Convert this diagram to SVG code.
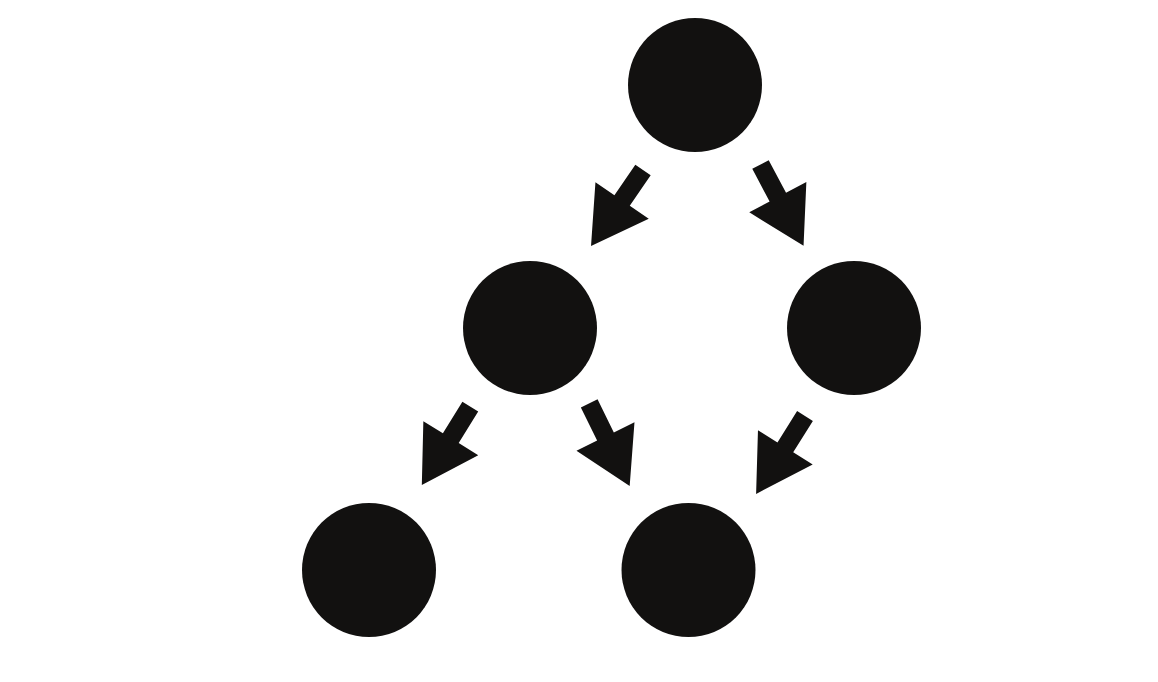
<svg xmlns="http://www.w3.org/2000/svg" xmlns:xlink="http://www.w3.org/1999/xlink" width="1158" height="682" viewBox="0 0 1158 682">
<style>
.node{fill:#121110}
.arrow{fill:#121110}
</style>
<defs>
<path id="arr" d="M0,-9.3 L37,-9.3 L37,-32.3 L92,0 L37,32.3 L37,9.3 L0,9.3 Z"/>
</defs>
<rect width="1158" height="682" fill="#ffffff"/>
<g id="connectors" class="arrow">
<use xlink:href="#arr" href="#arr" transform="translate(643,170) rotate(124.4)"/>
<use xlink:href="#arr" href="#arr" transform="translate(760.5,164.5) rotate(62.1)"/>
<use xlink:href="#arr" href="#arr" transform="translate(470.3,406.7) rotate(121.8)"/>
<use xlink:href="#arr" href="#arr" transform="translate(589.2,403.3) rotate(63.9)"/>
<use xlink:href="#arr" href="#arr" transform="translate(805,416) rotate(122.1)"/>
</g>
<g id="n1"><circle class="node" cx="695" cy="85" r="67"/></g>
<g id="n2"><circle class="node" cx="530" cy="328" r="67"/></g>
<g id="n3"><circle class="node" cx="854" cy="328" r="67"/></g>
<g id="n4"><circle class="node" cx="369" cy="570" r="67"/></g>
<g id="n5"><circle class="node" cx="688.5" cy="570" r="67"/></g>
</svg>
